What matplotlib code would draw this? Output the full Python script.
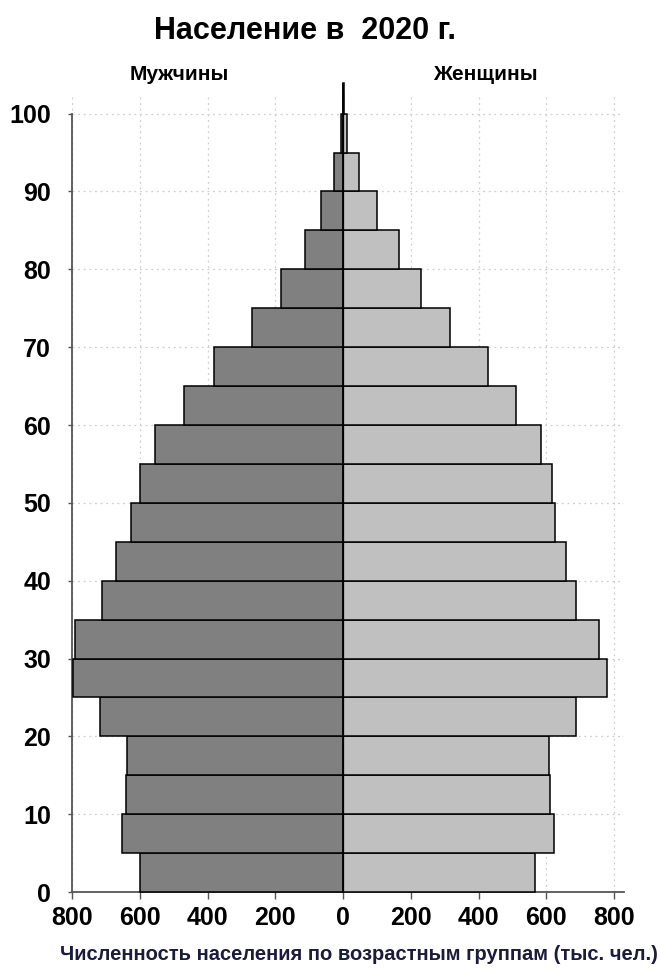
import matplotlib
matplotlib.use("Agg")
import matplotlib.pyplot as plt
import numpy as np

# Age groups (lower bounds, 5-year steps) and population (thousand people)
age_start = [0, 5, 10, 15, 20, 25, 30, 35, 40, 45, 50, 55, 60, 65, 70, 75, 80, 85, 90, 95, 100]
men = [598, 652, 640, 637, 717, 798, 790, 712, 669, 625, 598, 556, 469, 382, 269, 182, 111, 65, 27, 6, 1]
women = [567, 621, 610, 607, 688, 779, 756, 688, 657, 626, 617, 585, 510, 429, 316, 229, 165, 100, 47, 12, 2]

x_ticks = [-800, -600, -400, -200, 0, 200, 400, 600, 800]
x_tick_labels = ["800", "600", "400", "200", "0", "200", "400", "600", "800"]
y_ticks = [0, 10, 20, 30, 40, 50, 60, 70, 80, 90, 100]

title = "Население в  2020 г."
label_men = "Мужчины"
label_women = "Женщины"
x_label = "Численность населения по возрастным группам (тыс. чел.)"

FONT = ["Liberation Sans", "DejaVu Sans"]
plt.rcParams["font.family"] = FONT

fig = plt.figure(figsize=(6.6, 9.73), dpi=100)
ax = fig.add_axes([0.109, 0.0832, 0.837, 0.820])

heights = [5] * len(age_start)
heights[-1] = 4
ax.barh(age_start, [-m for m in men], height=heights, align="edge",
        color="#808080", edgecolor="black", linewidth=1.1, zorder=3, clip_on=False)
ax.barh(age_start, women, height=heights, align="edge",
        color="#c0c0c0", edgecolor="black", linewidth=1.1, zorder=3, clip_on=False)
ax.axvline(0, ymin=0, ymax=1, color="black", linewidth=0.9, zorder=4)

ax.set_xlim(-800, 830)
ax.set_ylim(0, 102.5)

ax.set_xticks(x_ticks)
ax.set_xticklabels(x_tick_labels, fontsize=18, fontweight="bold")
ax.set_yticks(y_ticks)
ax.set_yticklabels([str(v) for v in y_ticks], fontsize=18, fontweight="bold")
ax.tick_params(axis="x", length=5, width=1, color="#555555", pad=5)
ax.tick_params(axis="y", length=3, width=1, color="#555555", pad=12)

ax.grid(True, linestyle=(0, (1.5, 3)), color="#cfcfcf", linewidth=0.9, zorder=0)
for side in ["top", "right"]:
    ax.spines[side].set_visible(False)
ax.spines["left"].set_color("#555555")
ax.spines["bottom"].set_color("#555555")
ax.spines["left"].set_linewidth(1.3)
ax.spines["bottom"].set_linewidth(1.3)
ax.spines["left"].set_bounds(0, 100)

fig.text(0.462, 0.968, title, ha="center", va="center", fontsize=22, fontweight="bold")
fig.text(0.272, 0.923, label_men, ha="center", va="center", fontsize=15, fontweight="bold")
fig.text(0.735, 0.923, label_women, ha="center", va="center", fontsize=15, fontweight="bold")
fig.text(0.544, 0.019, x_label, ha="center", va="center", fontsize=14.5,
         fontweight="bold", color="#1b1b3c")

fig.savefig("out.png", dpi=100)
